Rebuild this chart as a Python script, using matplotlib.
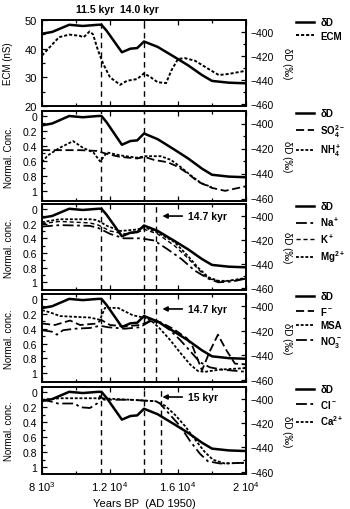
import numpy as np
import matplotlib
matplotlib.use('Agg')
import matplotlib.pyplot as plt
from matplotlib.lines import Line2D

plt.rcParams['font.family'] = ['Liberation Sans', 'DejaVu Sans']
plt.rcParams['mathtext.default'] = 'regular'

# deltaD record (shared by all panels, right axis)
dD_years = [8000, 8600, 9600, 10400, 11300, 11500, 11800, 12700, 13200, 13600,
            14000, 14800, 15800, 16600, 17400, 18000, 19000, 20000]
dD_vals = [-401.5, -400, -394, -395, -394, -394, -399, -417, -414, -413.5,
           -408, -412.5, -421, -428, -436, -441, -442.5, -443]

# panel 1: ECM
ecm_years = [8000, 8450, 9000, 9600, 10200, 10450, 10800, 11000, 11300, 11600,
             12000, 12600, 13000, 13600, 14000, 14400, 14800, 15300, 15600,
             16000, 16400, 17000, 17800, 18400, 19000, 20000]
ecm_vals = [37.6, 40.5, 44, 44.9, 44.5, 44, 46, 45, 39.3, 34.7,
            30, 27.4, 28.8, 29.4, 31.4, 30, 28.3, 28, 32.3,
            36.4, 36.7, 35.8, 32.9, 30.8, 31.2, 32.3]

# panel 2: SO4, NH4
so4_years = [8000, 9030, 10230, 11220, 11820, 12610, 13600, 14040, 14600, 15390,
             15990, 16580, 17180, 17980, 18770, 19370, 20000]
so4_vals = [0.46, 0.46, 0.46, 0.47, 0.51, 0.55, 0.57, 0.55, 0.59, 0.62,
            0.68, 0.77, 0.88, 0.96, 1.0, 0.97, 0.94]
nh4_years = [8000, 8340, 9030, 9830, 10420, 11020, 11420, 11820, 12610, 13600,
             14040, 14990, 15590, 16190, 16780, 17380, 17980]
nh4_vals = [0.62, 0.53, 0.43, 0.34, 0.43, 0.49, 0.61, 0.49, 0.53, 0.56,
            0.54, 0.54, 0.59, 0.69, 0.8, 0.9, 0.95]

# panel 3: Na, K, Mg
na_years = [8000, 9030, 10820, 11320, 12010, 12810, 13800, 14600, 15390, 16190,
            16980, 17780, 18370, 19170, 20000]
na_vals = [0.24, 0.22, 0.23, 0.26, 0.34, 0.4, 0.4, 0.43, 0.55, 0.68,
           0.84, 0.95, 1.0, 0.99, 0.95]
k_years = [8000, 9030, 10820, 11320, 12010, 12810, 13600, 14040, 14800, 15790,
           16580, 17180, 17780, 18570, 20000]
k_vals = [0.2, 0.17, 0.19, 0.22, 0.3, 0.34, 0.32, 0.28, 0.34, 0.5,
          0.67, 0.82, 0.95, 0.99, 0.95]
mg_years = [8000, 9030, 10820, 11220, 11820, 12610, 13600, 14040, 14800, 15790,
            16580, 17180, 17780, 18370, 18970, 20000]
mg_vals = [0.18, 0.14, 0.14, 0.15, 0.23, 0.3, 0.28, 0.25, 0.32, 0.45,
           0.64, 0.8, 0.93, 0.98, 0.98, 0.94]

# panel 4: F, MSA, NO3
f_years = [8000, 8760, 9650, 10240, 11240, 11470, 12000, 12880, 13760, 14350,
           14940, 15710, 16530, 16880, 17410, 17880, 18350, 18820, 19350, 20000]
f_vals = [0.33, 0.35, 0.29, 0.35, 0.33, 0.28, 0.35, 0.37, 0.35, 0.3,
          0.31, 0.4, 0.53, 0.65, 0.96, 0.7, 0.48, 0.68, 0.87, 0.88]
msa_years = [8000, 8470, 9060, 9940, 10820, 11410, 11700, 12470, 13350, 14000,
             14470, 14940, 15530, 16120, 16710, 17180, 17590, 18470, 20000]
msa_vals = [0.15, 0.18, 0.23, 0.24, 0.25, 0.28, 0.12, 0.12, 0.22, 0.25,
            0.3, 0.4, 0.55, 0.72, 0.88, 0.97, 0.98, 0.95, 0.93]
no3_years = [8000, 8590, 8880, 9240, 9940, 10820, 11410, 11880, 12880, 13760,
             14350, 14820, 15530, 16120, 16710, 17290, 17880, 18590, 20000]
no3_vals = [0.42, 0.44, 0.48, 0.42, 0.4, 0.39, 0.36, 0.38, 0.4, 0.38,
            0.3, 0.3, 0.42, 0.55, 0.7, 0.85, 0.92, 0.95, 0.98]

# panel 5: Cl, Ca
cl_years = [8000, 8470, 8940, 9940, 10240, 10820, 11240, 11410, 11650, 13180,
            14700, 14940, 15530, 16120, 16710, 17290, 17760, 18470, 20000]
cl_vals = [0.1, 0.12, 0.15, 0.15, 0.2, 0.21, 0.15, 0.05, 0.1, 0.1,
           0.12, 0.15, 0.3, 0.45, 0.65, 0.82, 0.92, 0.95, 0.94]
ca_years = [8000, 9060, 10820, 11410, 13180, 14700, 15240, 15820, 16410, 17000,
            17590, 18060, 18760, 20000]
ca_vals = [0.1, 0.08, 0.08, 0.08, 0.1, 0.12, 0.18, 0.3, 0.45, 0.63,
           0.8, 0.9, 0.95, 0.94]

DOT = (0, (1.6, 1.0))
DASH = (0, (4.5, 2.0))
THIN_DASH = (0, (3.0, 2.0))
DASHDOT = (0, (6, 2, 1.5, 2))

W, H = 350, 510
fig = plt.figure(figsize=(3.5, 5.1), dpi=100)

# pixel extents (top, bottom) of the five panels
panels_px = [(21, 107), (112, 202), (205, 291), (295, 383), (388, 475)]
conc_lims = [None, (1.135, -0.06), (1.105, -0.068), (1.117, -0.067), (1.09, -0.07)]
left_px, right_px = 42, 246

axes = []
for top, bot in panels_px:
    ax = fig.add_axes([left_px / W, 1 - bot / H, (right_px - left_px) / W, (bot - top) / H])
    axes.append(ax)


def style(ax, ax2, last=False):
    for a in (ax, ax2):
        for s in a.spines.values():
            s.set_linewidth(1.2)
    ax.set_xlim(8000, 20000)
    ax.set_xticks([8000, 12000, 16000, 20000])
    ax.set_xticks([10000, 14000, 18000], minor=True)
    ax.tick_params(axis='both', which='both', direction='in', top=True, labelsize=7.5, width=0.9)
    ax.tick_params(which='major', length=3.5)
    ax.tick_params(which='minor', length=2.5)
    if last:
        ax.set_xticklabels([r'8 10$^3$', r'1.2 10$^4$', r'1.6 10$^4$', r'2 10$^4$'], fontsize=8)
        ax.set_xlabel('Years BP  (AD 1950)', fontsize=8)
    else:
        ax.set_xticklabels([])
    ax2.set_ylim(-462, -390)
    ax2.set_yticks([-400, -420, -440, -460])
    ax2.set_yticks([-410, -430, -450], minor=True)
    ax2.tick_params(axis='y', which='both', direction='in', labelsize=7.5, width=0.9)
    ax2.tick_params(which='major', length=3.5)
    ax2.tick_params(which='minor', length=2.5)
    ax2.set_ylabel('δD (‰)', rotation=270, fontsize=7)
    ax2.yaxis.set_label_coords(1.225, 0.5)


def vlines(ax, xs):
    for x in xs:
        ax.axvline(x, color='black', lw=1.0, linestyle=(0, (4, 3)), zorder=1)


def legend(ax, handles):
    ax.legend(handles=handles, loc='upper left', bbox_to_anchor=(1.245, 1.03),
              frameon=False, prop={'weight': 'bold', 'size': 7},
              handlelength=1.9, handletextpad=0.6, labelspacing=0.35,
              borderpad=0, borderaxespad=0)


def arrow_text(ax, label, y):
    ax.annotate(label, xy=(0.59, y), xycoords='axes fraction',
                xytext=(0.715, y), textcoords='axes fraction',
                ha='left', va='center', fontsize=7.5, fontweight='bold',
                arrowprops=dict(arrowstyle='-|>', color='black', lw=1.2,
                                mutation_scale=7, shrinkA=2, shrinkB=0))


h_dD = Line2D([0], [0], color='black', lw=1.8, label='δD')

# panel 1
ax = axes[0]
ax2 = ax.twinx()
ax.plot(ecm_years, ecm_vals, color='black', lw=1.4, linestyle=DOT)
ax2.plot(dD_years, dD_vals, color='black', lw=1.8)
ax.set_ylim(20, 50)
ax.set_yticks([20, 30, 40, 50])
ax.set_yticks([25, 35, 45], minor=True)
ax.set_ylabel('ECM (nS)', fontsize=7)
ax.yaxis.set_label_coords(-0.14, 0.5)
vlines(ax, [11500, 14000])
style(ax, ax2)
ax.tick_params(axis='y', labelsize=8)
legend(ax2, [h_dD, Line2D([0], [0], color='black', lw=1.4, linestyle=DOT, label='ECM')])
ax.text(0.37, 1.13, '11.5 kyr  14.0 kyr', transform=ax.transAxes, ha='center', va='center',
        fontsize=7.5, fontweight='bold')

conc_sets = [
    (1, [(so4_years, so4_vals, DASH, 'SO$_4^{2-}$'), (nh4_years, nh4_vals, DOT, 'NH$_4^+$')],
     [11500, 14000], 'Normal. Conc.', None),
    (2, [(na_years, na_vals, DASHDOT, 'Na$^+$'), (k_years, k_vals, THIN_DASH, 'K$^+$'),
         (mg_years, mg_vals, DOT, 'Mg$^{2+}$')],
     [11500, 14000, 14700], 'Normal. conc.', '14.7 kyr'),
    (3, [(f_years, f_vals, DASH, 'F$^-$'), (msa_years, msa_vals, DOT, 'MSA'),
         (no3_years, no3_vals, DASHDOT, 'NO$_3^-$')],
     [11500, 14000, 14700], 'Normal. conc.', '14.7 kyr'),
    (4, [(cl_years, cl_vals, DASHDOT, 'Cl$^-$'), (ca_years, ca_vals, DOT, 'Ca$^{2+}$')],
     [11500, 14000, 15000], 'Normal. conc.', '15 kyr'),
]
arrow_y = {2: 0.86, 3: 0.83, 4: 0.885}

for idx, series, lines, ylab, arr in conc_sets:
    ax = axes[idx]
    ax2 = ax.twinx()
    handles = [h_dD]
    for yrs, vals, ls, lab in series:
        lw = 1.0 if ls == THIN_DASH else 1.3
        ax.plot(yrs, vals, color='black', lw=lw, linestyle=ls)
        handles.append(Line2D([0], [0], color='black', lw=lw, linestyle=ls, label=lab))
    ax2.plot(dD_years, dD_vals, color='black', lw=1.8)
    ax.set_ylim(*conc_lims[idx])
    ax.set_yticks([0, 0.2, 0.4, 0.6, 0.8, 1])
    ax.set_yticklabels(['0', '0.2', '0.4', '0.6', '0.8', '1'])
    ax.set_yticks([0.1, 0.3, 0.5, 0.7, 0.9], minor=True)
    ax.set_ylabel(ylab, fontsize=7)
    ax.yaxis.set_label_coords(-0.135, 0.5)
    vlines(ax, lines)
    style(ax, ax2, last=(idx == 4))
    legend(ax2, handles)
    if arr:
        arrow_text(ax, arr, arrow_y[idx])

fig.savefig('out.png', dpi=100)
